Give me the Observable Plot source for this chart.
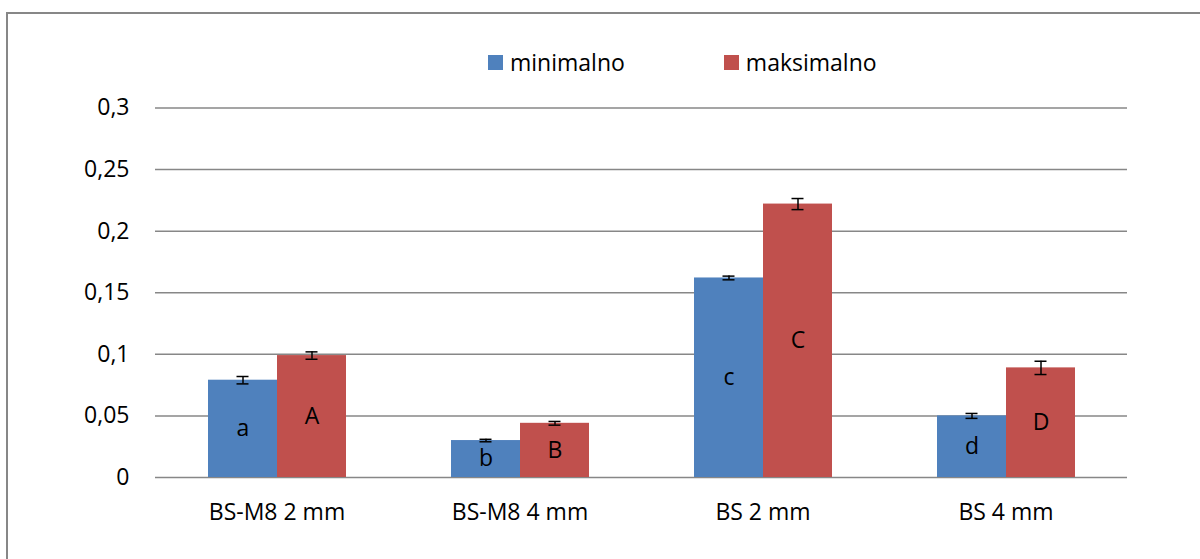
<!DOCTYPE html>
<html>
<head>
<meta charset="utf-8">
<script src="https://cdn.jsdelivr.net/npm/d3@7"></script>
<script src="https://cdn.jsdelivr.net/npm/@observablehq/plot@0.6"></script>
<style>
  body { margin: 0; background: #fff; font-family: "Open Sans", sans-serif; }
  #wrap { position: relative; width: 1200px; height: 559px; overflow: hidden; background: #fff; }
  #border { position: absolute; left: 6px; top: 12px; width: 1300px; height: 700px;
            border-left: 2px solid #878787; border-top: 2px solid #878787; }
  #legend { position: absolute; left: 488px; top: 46px; display: flex; align-items: center;
            font-size: 23px; color: #000; font-family: "Open Sans", sans-serif; }
  .sw { width: 15px; height: 15px; display: inline-block; margin-right: 7px; }
  .item { display: flex; align-items: center; }
  #chart { position: absolute; left: 0; top: 0; }
</style>
</head>
<body>
<div id="wrap">
  <div id="border"></div>
  <div id="chart"></div>
  <div id="legend"></div>
</div>
<script>
const categories = ["BS-M8 2 mm", "BS-M8 4 mm", "BS 2 mm", "BS 4 mm"];
const series = ["minimalno", "maksimalno"];
const colors = ["#4F81BD", "#C0504D"];
const minValues = [0.079, 0.030, 0.162, 0.050];
const maxValues = [0.099, 0.044, 0.222, 0.089];
const minErr = [0.003, 0.001, 0.0015, 0.002];
const maxErr = [0.003, 0.0015, 0.0045, 0.0054];
const minLabels = ["a", "b", "c", "d"];
const maxLabels = ["A", "B", "C", "D"];
const yTicks = [0, 0.05, 0.1, 0.15, 0.2, 0.25, 0.3];

const data = categories.flatMap((c, i) => [
  {cat: c, series: series[0], value: minValues[i], err: minErr[i], label: minLabels[i]},
  {cat: c, series: series[1], value: maxValues[i], err: maxErr[i], label: maxLabels[i]}
]);

const FS = 23;
const chart = Plot.plot({
  width: 1200,
  height: 559,
  marginLeft: 154,
  marginRight: 72,
  marginTop: 107.5,
  marginBottom: 82,
  style: {fontFamily: "Open Sans, sans-serif", fontSize: FS + "px", color: "#000", background: "transparent"},
  fx: {domain: categories, padding: 0, label: null},
  x: {domain: series, paddingInner: 0, paddingOuter: 0.76, axis: null},
  y: {domain: [0, 0.3], label: null},
  color: {domain: series, range: colors},
  marks: [
    Plot.gridY(yTicks, {stroke: "#878787", strokeOpacity: 1, strokeWidth: 1.5}),
    Plot.axisY(yTicks, {tickSize: 0, tickPadding: 26, fontSize: FS, fill: "#000",
      tickFormat: d => String(d).replace(".", ","), line: true, stroke: "#878787", strokeWidth: 1.5, label: null}),
    Plot.axisFx({anchor: "bottom", tickSize: 0, tickPadding: 26, fontSize: FS, fill: "#000", label: null}),
    Plot.barY(data, {fx: "cat", x: "series", y: "value", fill: "series"}),
    Plot.ruleX(data, {fx: "cat", x: "series", y1: d => d.value - d.err, y2: d => d.value + d.err, stroke: "#000", strokeWidth: 1.5}),
    Plot.tickY(data, {fx: "cat", x: "series", y: d => d.value + d.err, stroke: "#000", strokeWidth: 1.5, insetLeft: 28.5, insetRight: 28.5}),
    Plot.tickY(data, {fx: "cat", x: "series", y: d => d.value - d.err, stroke: "#000", strokeWidth: 1.5, insetLeft: 28.5, insetRight: 28.5}),
    Plot.text(data, {fx: "cat", x: "series", y: d => d.value / 2, text: "label", fontSize: FS, fill: "#000"})
  ]
});
document.getElementById("chart").appendChild(chart);

const legend = document.getElementById("legend");
series.forEach((s, i) => {
  const item = document.createElement("div");
  item.className = "item";
  if (i > 0) item.style.marginLeft = "99px";
  const sw = document.createElement("span");
  sw.className = "sw";
  sw.style.background = colors[i];
  const t = document.createElement("span");
  t.textContent = s;
  item.appendChild(sw);
  item.appendChild(t);
  legend.appendChild(item);
});
</script>
</body>
</html>
